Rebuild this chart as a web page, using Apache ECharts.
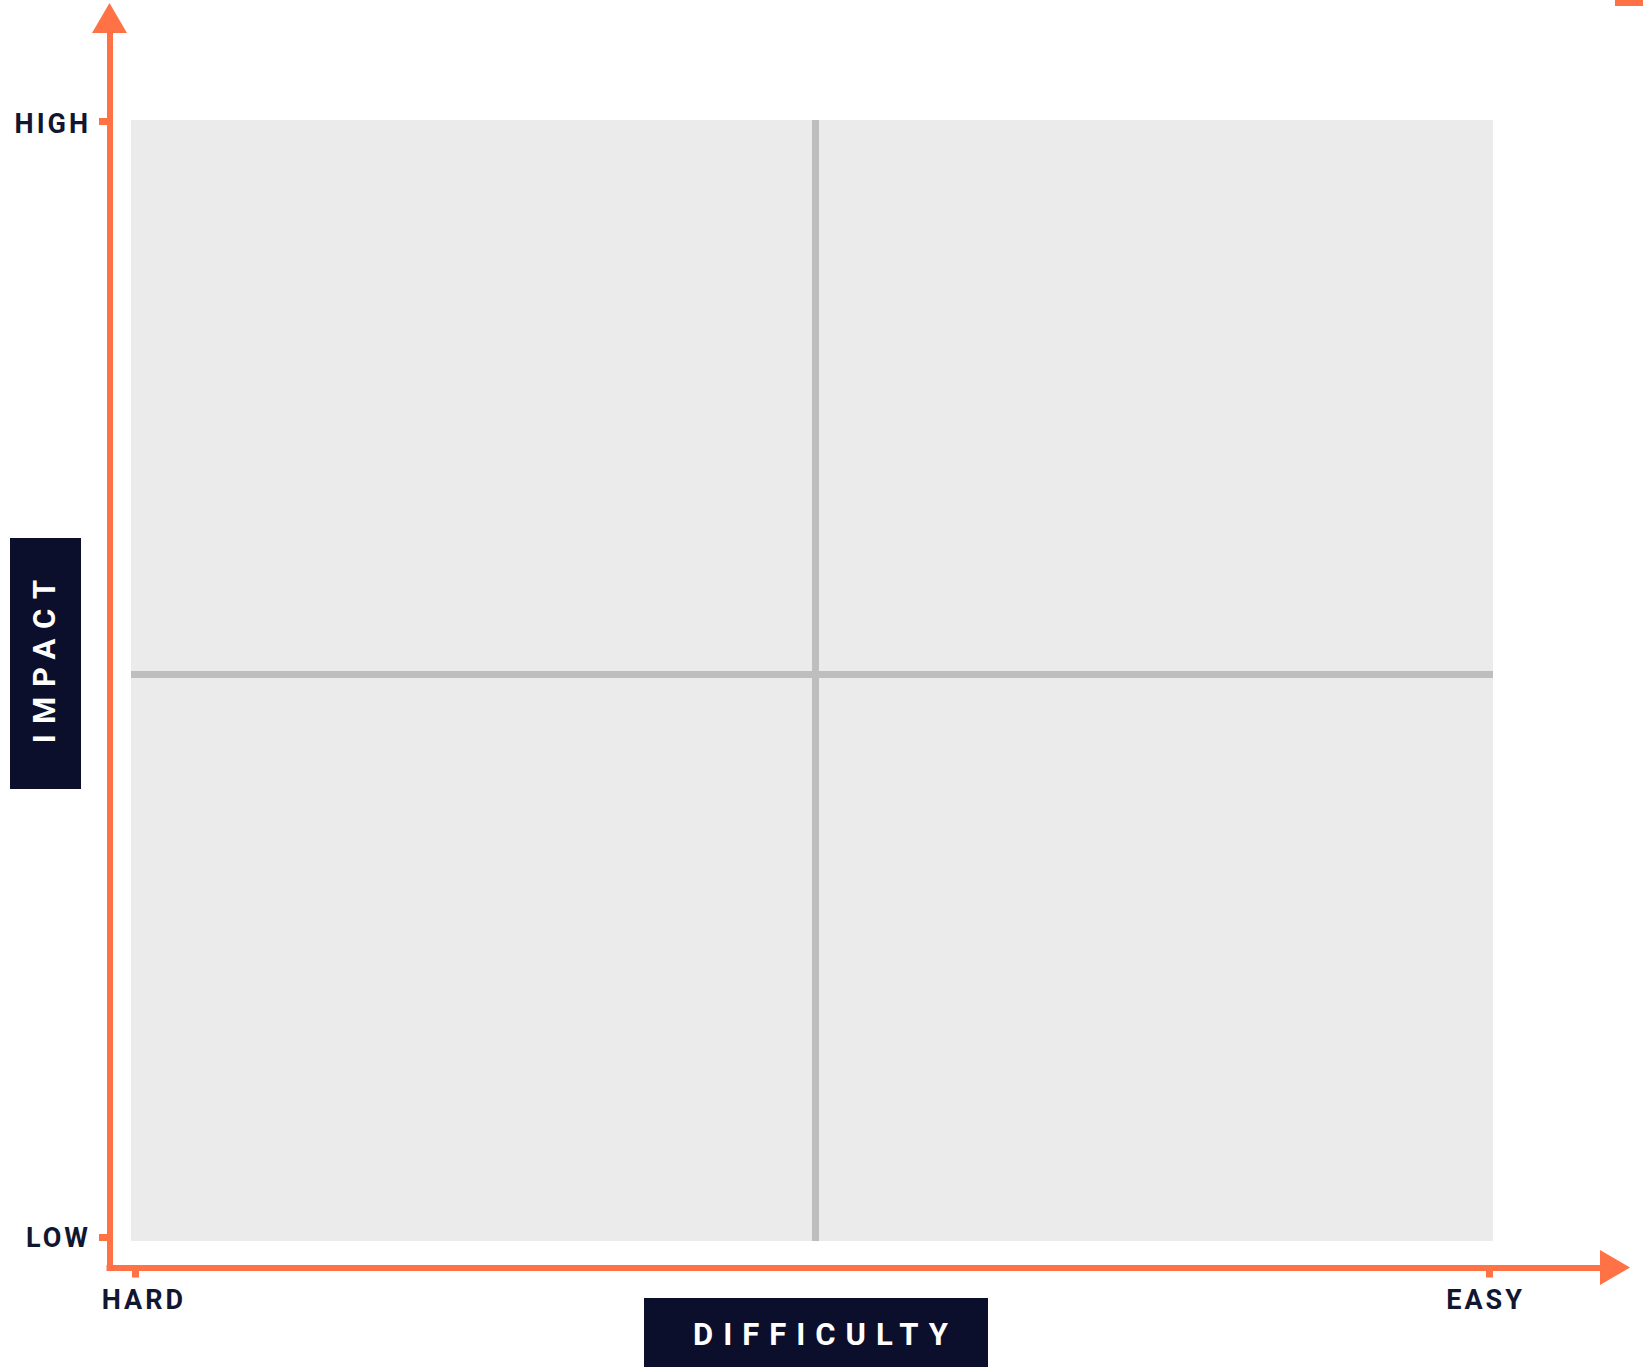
<!DOCTYPE html>
<html>
<head>
<meta charset="utf-8">
<script src="https://cdn.jsdelivr.net/npm/echarts@6/dist/echarts.min.js"></script>
<style>
html,body{margin:0;padding:0;background:#fff;}
#chart{width:1643px;height:1367px;}
</style>
</head>
<body>
<div id="chart"></div>
<script>
// ---- data ----
const xTickValues = [0, 100];
const xTickLabels = ['HARD', 'EASY'];
const yTickValues = [0, 100];
const yTickLabels = ['LOW', 'HIGH'];
const xAxisTitle = 'DIFFICULTY';
const yAxisTitle = 'IMPACT';
const xDivider = 50.2;
const yDivider = 50.5;

// ---- layout / style ----
const axisX = { min: -0.32, max: 100.885 };
const axisY = { min: -0.31, max: 103.18 };
const plotX = [-0.32, 100.29];
const plotY = [-0.31, 100.13];

const ORANGE = '#FF7246';
const NAVY = '#0B0F2B';
const LABEL = '#111631';
const FONT = 'Roboto';
const TITLE_SIZE = 31;

function measure(text, font) {
  const c = document.createElement('canvas').getContext('2d');
  c.font = font;
  return c.measureText(text).width;
}
const titleFont = 'bold ' + TITLE_SIZE + 'px ' + FONT;
const wX = measure(xAxisTitle, titleFont);
const wY = measure(yAxisTitle, titleFont);
const xBoxW = 344, yBoxW = 251;
const xPadL = (xBoxW - wX + 19) / 2, xPadR = (xBoxW - wX - 19) / 2;
const yPadL = (yBoxW - wY + 14) / 2, yPadR = (yBoxW - wY - 14) / 2;

const labelFont = { color: LABEL, fontFamily: FONT, fontWeight: 'bold', fontSize: 27 };

const chart = echarts.init(document.getElementById('chart'), null, { renderer: 'svg', width: 1643, height: 1367 });

const option = {
  animation: false,
  backgroundColor: '#ffffff',
  grid: [
    { left: 131, right: 142, top: 86, bottom: 126, containLabel: false, outerBoundsMode: 'none' },
    { left: 109.5, right: 28, top: 18, bottom: 99.5, containLabel: false, outerBoundsMode: 'none' }
  ],
  xAxis: [
    {
      gridIndex: 0, type: 'value', min: axisX.min, max: axisX.max, position: 'bottom', offset: 26.5,
      axisLine: { show: false, onZero: false }, splitLine: { show: false },
      axisTick: { show: true, customValues: xTickValues, length: 10, lineStyle: { color: ORANGE, width: 7 } },
      axisLabel: {
        show: true, customValues: xTickValues, margin: 18.5,
        formatter: function (v) {
          const i = xTickValues.indexOf(v);
          return '{t' + i + '|' + xTickLabels[i] + '}';
        },
        rich: {
          t0: Object.assign({ padding: [0, 0, 0, 17] }, labelFont),
          t1: Object.assign({ padding: [0, 7, 0, 0] }, labelFont)
        },
        ...labelFont
      },
      name: xAxisTitle, nameLocation: 'middle', nameGap: 30.5, nameMoveOverlap: false,
      nameTextStyle: {
        color: '#ffffff', fontFamily: FONT, fontWeight: 'bold', fontSize: TITLE_SIZE, lineHeight: 40,
        backgroundColor: NAVY, padding: [16, xPadR, 60, xPadL]
      }
    },
    {
      gridIndex: 1, type: 'value', min: 0, max: 1, position: 'bottom',
      axisLine: { show: true, onZero: false, symbol: ['none', 'triangle'], symbolSize: [35, 30],
        lineStyle: { color: ORANGE, width: 6, cap: 'square' } },
      axisTick: { show: false }, axisLabel: { show: false }, splitLine: { show: false }
    }
  ],
  yAxis: [
    {
      gridIndex: 0, type: 'value', min: axisY.min, max: axisY.max, position: 'left', offset: 21.5,
      axisLine: { show: false, onZero: false }, splitLine: { show: false },
      axisTick: { show: true, customValues: yTickValues, length: 10.5, lineStyle: { color: ORANGE, width: 7 } },
      axisLabel: {
        show: true, customValues: yTickValues, margin: 18.5,
        formatter: function (v) {
          const i = yTickValues.indexOf(v);
          return '{t' + i + '|' + yTickLabels[i] + '}';
        },
        rich: {
          t0: Object.assign({ padding: [0, 0, 0, 0] }, labelFont),
          t1: Object.assign({ padding: [5, 0, 0, 0] }, labelFont)
        },
        ...labelFont
      },
      name: yAxisTitle, nameLocation: 'middle', nameGap: 28.5, nameRotate: 90, nameMoveOverlap: false,
      nameTextStyle: {
        color: '#ffffff', fontFamily: FONT, fontWeight: 'bold', fontSize: TITLE_SIZE, lineHeight: 40,
        backgroundColor: NAVY, padding: [14, yPadR, 17, yPadL]
      }
    },
    {
      gridIndex: 1, type: 'value', min: 0, max: 1, position: 'left',
      axisLine: { show: true, onZero: false, symbol: ['none', 'triangle'], symbolSize: [35, 30],
        lineStyle: { color: ORANGE, width: 6, cap: 'square' } },
      axisTick: { show: false }, axisLabel: { show: false }, splitLine: { show: false }
    }
  ],
  graphic: [
    { type: 'rect', shape: { x: 1615, y: 0, width: 28, height: 6 }, style: { fill: ORANGE }, silent: true }
  ],
  series: [
    {
      type: 'scatter', xAxisIndex: 0, yAxisIndex: 0, data: [], silent: true,
      markArea: {
        silent: true,
        itemStyle: { color: '#EBEBEB' },
        label: { show: false },
        data: [[{ coord: [plotX[0], plotY[0]] }, { coord: [plotX[1], plotY[1]] }]]
      },
      markLine: {
        silent: true, symbol: ['none', 'none'], label: { show: false },
        lineStyle: { color: '#BEBEBE', width: 7, type: 'solid' },
        data: [
          [{ coord: [xDivider, plotY[0]] }, { coord: [xDivider, plotY[1]] }],
          [{ coord: [plotX[0], yDivider] }, { coord: [plotX[1], yDivider] }]
        ]
      }
    }
  ]
};

chart.setOption(option);

const spacing = { HIGH: 3, LOW: 3, HARD: 3, EASY: 3, IMPACT: 10, DIFFICULTY: 10 };
function applySpacing() {
  document.querySelectorAll('#chart svg text').forEach(function (t) {
    const s = spacing[t.textContent.trim()];
    if (s != null) t.style.letterSpacing = s + 'px';
  });
}
applySpacing();
chart.on('finished', applySpacing);
requestAnimationFrame(applySpacing);
setTimeout(applySpacing, 50);
setTimeout(applySpacing, 300);
</script>
</body>
</html>
